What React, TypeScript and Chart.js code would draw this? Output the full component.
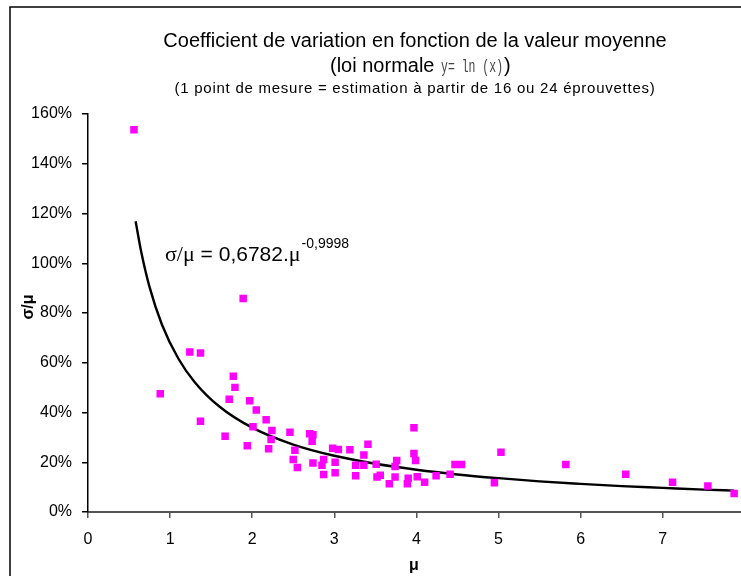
import React, { useEffect, useRef } from 'react';
import { Chart, registerables } from 'chart.js';

Chart.register(...registerables);

// ---- data ----
const muValues = [
  0.56, 0.88, 1.24, 1.37, 1.37, 1.67, 1.72, 1.77, 1.79, 1.89, 1.94, 1.97, 2.01, 2.05, 2.17, 2.2,
  2.24, 2.23, 2.46, 2.5, 2.52, 2.55, 2.7, 2.74, 2.73, 2.74, 2.85, 2.87, 2.87, 2.98, 3.01, 3.01,
  3.05, 3.19, 3.26, 3.26, 3.36, 3.36, 3.41, 3.51, 3.52, 3.56, 3.74, 3.76, 3.74, 3.67, 3.89, 3.9,
  3.97, 3.97, 3.99, 4.01, 4.1, 4.24, 4.41, 4.47, 4.55, 4.95, 5.03, 5.82, 6.55, 7.12, 7.55, 7.87,
];
const cvValues = [
  153.7, 47.5, 64.3, 63.9, 36.5, 30.5, 45.3, 54.6, 50.1, 85.8, 26.6, 44.7, 34.3, 41.0, 37.1, 25.4,
  32.8, 29.1, 32.1, 21.1, 24.8, 17.9, 31.5, 31.1, 28.4, 19.7, 18.8, 21.1, 15.1, 25.6, 20.0, 15.8,
  25.1, 25.0, 18.8, 14.6, 22.9, 18.8, 27.2, 19.2, 14.1, 14.8, 18.3, 20.7, 14.1, 11.4, 11.4, 13.6,
  33.9, 23.5, 20.7, 14.2, 12.0, 14.6, 15.2, 19.1, 19.1, 11.8, 24.0, 19.1, 15.2, 12.0, 10.5, 7.4,
];
// trend curve
const trendMu = [0.58, 0.65, 0.75, 0.9, 1.1, 1.3, 1.6, 2, 2.5, 3, 3.5, 4, 4.5, 5, 5.5, 6, 6.5, 7, 7.5, 7.87];
const trendCv = [116.9, 104.3, 90.4, 75.4, 61.7, 52.2, 42.4, 33.9, 27.1, 22.6, 19.4, 17.0, 15.1, 13.6, 12.3, 11.3, 10.4, 9.7, 9.0, 8.6];

const yTickStep = 20;
const yMax = 160;
const xMax = 7.95;

const titleLine1 = 'Coefficient de variation en fonction de la valeur moyenne';
const titleLine2a = '(loi normale ';
const titleLine2b = 'y= ln (x)';
const titleLine2c = ')';
const titleLine3 = '(1 point de mesure = estimation à partir de 16 ou 24 éprouvettes)';
const eqLeft = 'σ/μ';
const eqMid = ' = 0,6782.';
const eqMu = 'μ';
const eqExp = '-0,9998';
const yTitle = 'σ/μ';
const xTitle = 'μ';

const SANS = '"Liberation Sans", Arial, sans-serif';
const SERIF = '"Liberation Serif", "Times New Roman", serif';
const MONO = '"Liberation Mono", "Courier New", monospace';

const decor = {
  id: 'decor',
  beforeDraw(chart: any) {
    const ctx = chart.ctx;
    ctx.save();
    ctx.fillStyle = '#ffffff';
    ctx.fillRect(0, 0, chart.width, chart.height);
    ctx.strokeStyle = '#000000';
    ctx.lineWidth = 1.5;
    ctx.strokeRect(10, 7, chart.width + 60, chart.height + 60);
    ctx.restore();
  },
  afterDraw(chart: any) {
    const ctx = chart.ctx;
    ctx.save();
    ctx.fillStyle = '#000';
    ctx.textBaseline = 'alphabetic';

    // title line 1
    ctx.font = `20px ${SANS}`;
    ctx.textAlign = 'center';
    ctx.fillText(titleLine1, 415, 47);

    // title line 2 (mixed fonts)
    ctx.textAlign = 'left';
    let x = 330;
    ctx.font = `20px ${SANS}`;
    ctx.fillText(titleLine2a, x, 72);
    x += ctx.measureText(titleLine2a).width;
    ctx.font = `19px ${MONO}`;
    const w2 = ctx.measureText(titleLine2b).width;
    const target = 62;
    ctx.save();
    ctx.translate(x + 1, 72);
    ctx.scale(target / w2, 1);
    ctx.fillStyle = '#444';
    ctx.fillText(titleLine2b, 0, 0);
    ctx.restore();
    x += target + 2;
    ctx.font = `20px ${SANS}`;
    ctx.fillText(titleLine2c, x, 72);

    // title line 3
    ctx.font = `15px ${SANS}`;
    ctx.textAlign = 'center';
    (ctx as any).letterSpacing = '0.75px';
    ctx.fillText(titleLine3, 415, 93);
    (ctx as any).letterSpacing = '0px';

    // equation
    ctx.textAlign = 'left';
    let ex = 165;
    const eb = 261;
    ctx.font = `22px ${SERIF}`;
    ctx.fillText(eqLeft, ex, eb);
    ex += ctx.measureText(eqLeft).width;
    ctx.font = `21px ${SANS}`;
    ctx.fillText(eqMid, ex, eb);
    ex += ctx.measureText(eqMid).width;
    ctx.font = `22px ${SERIF}`;
    ctx.fillText(eqMu, ex, eb);
    ex += ctx.measureText(eqMu).width;
    ctx.font = `14px ${SANS}`;
    ctx.fillText(eqExp, ex + 1, eb - 13);

    // axis titles
    ctx.font = `bold 16px ${SANS}`;
    ctx.textAlign = 'center';
    ctx.textBaseline = 'middle';
    ctx.fillText(xTitle, 414, 566);
    ctx.save();
    ctx.translate(29, 307);
    ctx.rotate(-Math.PI / 2);
    ctx.fillText(yTitle, 0, 0);
    ctx.restore();

    ctx.restore();
  },
};

export default function App() {
  const ref = useRef<HTMLCanvasElement>(null);

  useEffect(() => {
    if (!ref.current) return;
    const points = muValues.map((m, i) => ({ x: m, y: cvValues[i] }));
    const trend = trendMu.map((m, i) => ({ x: m, y: trendCv[i] }));
    const chart = new Chart(ref.current, {
      type: 'scatter',
      data: {
        datasets: [
          {
            label: 'trend',
            type: 'line',
            data: trend,
            borderColor: '#000',
            borderWidth: 2.4,
            pointRadius: 0,
            showLine: true,
            fill: false,
            cubicInterpolationMode: 'monotone',
            order: 2,
          } as any,
          {
            label: 'points',
            data: points,
            pointStyle: 'rect',
            pointRadius: 5.3,
            pointBackgroundColor: '#ff00ff',
            pointBorderColor: '#ff00ff',
            pointBorderWidth: 0,
            order: 1,
          } as any,
        ],
      },
      options: {
        responsive: false,
        animation: false,
        devicePixelRatio: 1,
        layout: { padding: { top: 114, left: 0, right: 0, bottom: 0 } },
        plugins: {
          legend: { display: false },
          title: { display: false },
          tooltip: { enabled: false },
        },
        scales: {
          x: {
            type: 'linear',
            min: 0,
            max: xMax,
            afterFit: (s: any) => {
              s.height = 64;
              s.paddingRight = 0;
              s.paddingLeft = 0;
            },
            grid: { display: true, drawOnChartArea: false, drawTicks: true, tickLength: 6, color: '#555', lineWidth: 1.5 },
            border: { display: true, color: '#555', width: 2 },
            ticks: {
              stepSize: 1,
              includeBounds: false,
              padding: 12,
              color: '#000',
              font: { family: SANS, size: 16 },
              callback: (v: any) => String(v),
            },
          },
          y: {
            type: 'linear',
            min: 0,
            max: yMax,
            afterFit: (s: any) => {
              s.width = 88;
            },
            grid: { display: true, drawOnChartArea: false, drawTicks: true, tickLength: 6, color: '#000', lineWidth: 1.5 },
            border: { display: true, color: '#000', width: 1.5 },
            ticks: {
              stepSize: yTickStep,
              padding: 10,
              color: '#000',
              font: { family: SANS, size: 16 },
              callback: (v: any) => `${v}%`,
            },
          },
        },
      },
      plugins: [decor],
    });
    return () => chart.destroy();
  }, []);

  return (
    <div style={{ position: 'fixed', left: 0, top: 0, width: 741, height: 576, overflow: 'hidden', background: '#fff' }}>
      <canvas ref={ref} width={746} height={576} style={{ display: 'block', width: 746, height: 576 }} />
    </div>
  );
}
